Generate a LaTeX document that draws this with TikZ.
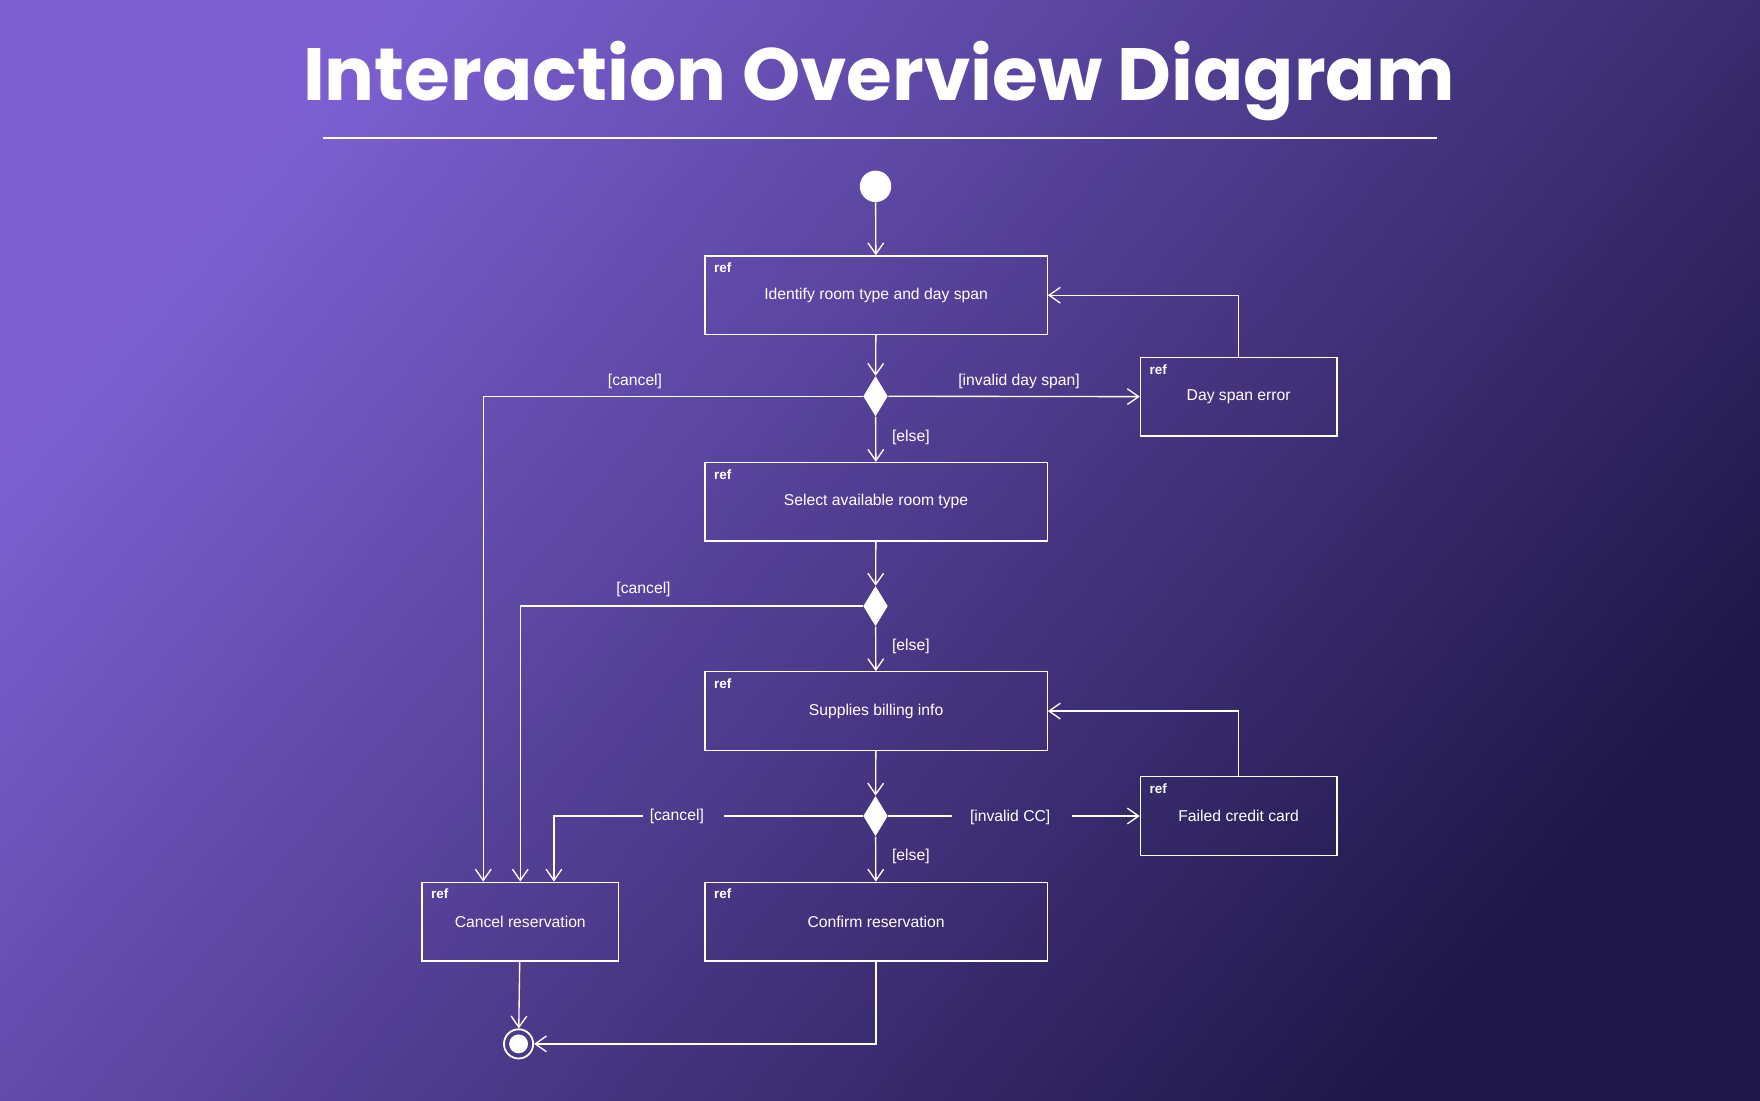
\documentclass[tikz,border=0pt]{standalone}
\usepackage{fontspec}
\setmainfont{Liberation Sans}
\newfontfamily\titlefont{Poppins}
\usetikzlibrary{shapes.geometric,arrows.meta,positioning}

\definecolor{bglight}{HTML}{7C60D2}
\definecolor{bgdark}{HTML}{1F1748}

\tikzset{
  flow/.style={draw=white, line width=0.6pt, -{Straight Barb[length=5pt,width=7pt]}},
  line/.style={draw=white, line width=0.6pt},
  refbox/.style={draw=white, line width=0.6pt, rectangle, minimum height=35pt,
    text=white, font=\fontsize{7}{8}\selectfont, inner sep=0pt,
    append after command={
      \pgfextra{\let\reftgt\tikzlastnode}
      [line width=0.5pt, draw=white] (\reftgt.north west) ++(0,-12pt) -- ++(13.5pt,0) -- ++(4pt,4pt) -- ++(0,8pt)
      (\reftgt.north west) ++(8.2pt,-5.6pt) node[text=white, font=\bfseries\fontsize{6}{7}\selectfont, inner sep=0pt] {ref}
    }},
  wide/.style={refbox, minimum width=152.5pt},
  narrow/.style={refbox, minimum width=87.5pt},
  decision/.style={diamond, fill=white, inner sep=0pt, minimum width=11pt, minimum height=18pt},
  guard/.style={text=white, font=\fontsize{7}{8}\selectfont, inner sep=1pt}
}

\begin{document}
\begin{tikzpicture}[x=0.5pt, y=-0.5pt]
% background
\shade[top color=bglight, bottom color=bgdark, shading angle=50] (0,0) rectangle (1568,980);
\useasboundingbox (0,0) rectangle (1568,980);

% title
\node[text=white, font=\titlefont\bfseries\fontsize{33}{38}\selectfont] (title) at (783,72) {Interaction Overview Diagram};
\draw[white, line width=1.2pt] (288,123) -- (1280,123);

% nodes
\node[circle, fill=white, minimum size=14pt, inner sep=0pt] (start) at (780,166) {};
\node[wide] (identify) at (780.5,263) {Identify room type and day span};
\node[decision] (d1) at (780,353) {};
\node[narrow] (dayerr) at (1103.5,353.5) {Day span error};
\node[wide] (select) at (780.5,447) {Select available room type};
\node[decision] (d2) at (780,540) {};
\node[wide] (billing) at (780.5,633.5) {Supplies billing info};
\node[decision] (d3) at (780,727) {};
\node[narrow] (failcc) at (1103.5,727) {Failed credit card};
\node[narrow] (cancel) at (463.5,821) {Cancel reservation};
\node[wide] (confirm) at (780.5,821) {Confirm reservation};
\node[circle, draw=white, line width=0.8pt, minimum size=13pt, inner sep=0pt] (end) at (462,930) {};
\fill[white] (end) circle (4.2pt);

% connectors
\draw[flow] (start) -- (identify);
\draw[flow] (identify) -- (d1);
\draw[flow] (d1) -- node[guard, right=6pt, pos=0.45] {[else]} (select);
\draw[flow] (d1) -- node[guard, above=2pt, pos=0.52] {[invalid day span]} (dayerr);
\draw[flow] (dayerr.north) |- (identify.east);
\draw[flow] (d1.west) -| node[guard, above=2pt, pos=0.3] {[cancel]} ([xshift=-16.5pt]cancel.north);
\draw[flow] (select) -- (d2);
\draw[flow] (d2) -- node[guard, right=6pt, pos=0.45] {[else]} (billing);
\draw[flow] (d2.west) -| node[guard, above=3pt, pos=0.32] {[cancel]} (cancel.north);
\draw[flow] (billing) -- (d3);
\draw[flow] (d3) -- node[guard, right=6pt, pos=0.45] {[else]} (confirm);
\coordinate (cc1) at (848,727);
\coordinate (cc2) at (955,727);
\node[guard] (cclabel) at (900,728) {[invalid CC]};
\draw[line] (d3.east) -- (cc1);
\draw[flow] (cc2) -- (failcc.west);
\coordinate (cn1) at (645,727);
\coordinate (cn2) at (573,727);
\node[guard] (cnlabel) at (603,727) {[cancel]};
\draw[line] (d3.west) -- (cn1);
\draw[flow] (cn2) -| ([xshift=15pt]cancel.north);
\draw[flow] (failcc.north) |- (billing.east);
\draw[flow] (cancel) -- (end);
\draw[flow] (confirm.south) |- (end.east);
\end{tikzpicture}
\end{document}
